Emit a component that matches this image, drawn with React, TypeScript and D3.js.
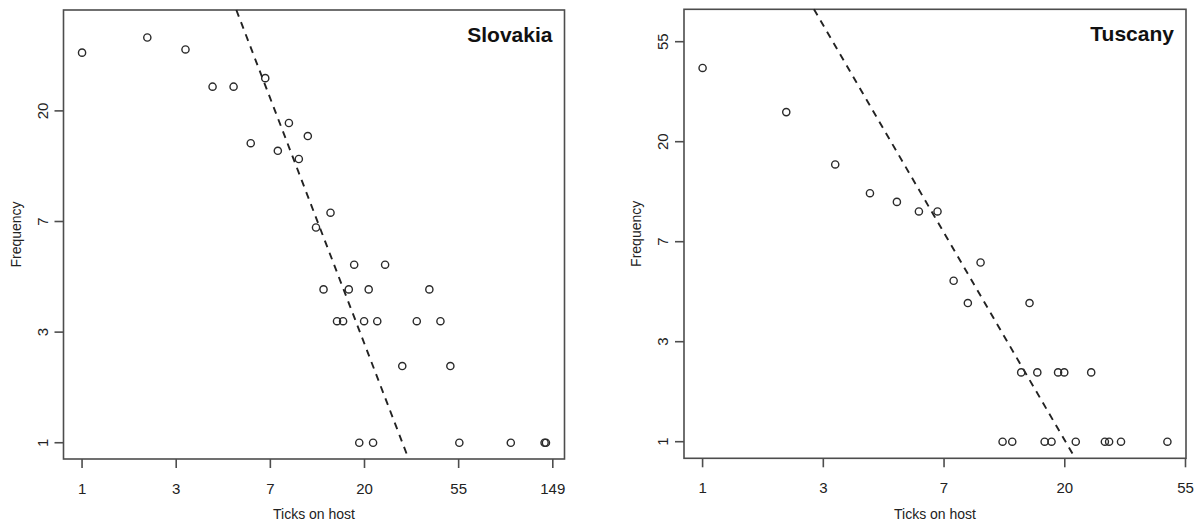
import React from "react";
import * as d3 from "d3";

// ---- Data ----
// Slovakia: ticks on host vs frequency
const slovakiaTicks = [1, 2, 3, 4, 5, 6, 7, 8, 9, 10, 11, 12, 13, 14, 15, 16, 17, 18, 19, 20, 21, 22, 23, 25, 30, 35, 40, 45, 50, 55, 95, 136, 138];
const slovakiaFreq = [34, 39, 35, 25, 25, 15, 27, 14, 18, 13, 16, 7, 4, 8, 3, 3, 4, 5, 1, 3, 4, 1, 3, 5, 2, 3, 4, 3, 2, 1, 1, 1, 1];
// Tuscany
const tuscanyTicks = [1, 2, 3, 4, 5, 6, 7, 8, 9, 10, 12, 13, 14, 15, 16, 17, 18, 19, 20, 22, 25, 28, 29, 32, 47];
const tuscanyFreq = [42, 27, 16, 12, 11, 10, 10, 5, 4, 6, 1, 1, 2, 4, 2, 1, 1, 2, 2, 1, 2, 1, 1, 1, 1];
// Fitted lines in ln-ln space: ln(freq) = intercept + slope * ln(ticks)
const slovakiaFit = [7.547, -2.218];
const tuscanyFit = [6.238, -2.075];
// Axis tick labels (placed at ln = 0, 1, 2, ...)
const slovakiaXTickLabels = ["1", "3", "7", "20", "55", "149"];
const slovakiaYTickLabels = ["1", "3", "7", "20"];
const tuscanyXTickLabels = ["1", "3", "7", "20", "55"];
const tuscanyYTickLabels = ["1", "3", "7", "20", "55"];
// ln-space axis limits
const slovakiaYLim = [-0.147, 3.912];
const tuscanyYLim = [-0.166, 4.324];

const FONT = "'Liberation Sans', Arial, Helvetica, sans-serif";

type PanelProps = {
  title: string;
  xs: number[];
  ys: number[];
  fit: number[];
  xLabels: string[];
  yLabels: string[];
  yLim: number[];
  box: { left: number; right: number; top: number; bottom: number };
};

function Panel({ title, xs, ys, fit, xLabels, yLabels, yLim, box }: PanelProps) {
  const lnMax = Math.log(d3.max(xs) as number);
  const ext = lnMax * 0.04;
  const x = d3.scaleLinear().domain([-ext, lnMax + ext]).range([box.left, box.right]);
  const y = d3.scaleLinear().domain(yLim).range([box.bottom, box.top]);

  // clipped fitted line
  const [a, b] = fit;
  const [xlo, xhi] = x.domain();
  const [ylo, yhi] = yLim;
  const xAtTop = (yhi - a) / b;
  const xAtBottom = (ylo - a) / b;
  const x0 = Math.max(xlo, Math.min(xAtTop, xAtBottom));
  const x1 = Math.min(xhi, Math.max(xAtTop, xAtBottom));
  const lineGen = d3.line<number>().x((v) => x(v)).y((v) => y(a + b * v));

  const stroke = "#4d4d4d";
  const tickLen = 9;
  const midY = (box.top + box.bottom) / 2;
  const midX = (box.left + box.right) / 2;

  return (
    <g>
      <rect x={box.left} y={box.top} width={box.right - box.left} height={box.bottom - box.top}
        fill="none" stroke={stroke} strokeWidth={1.6} />
      {xLabels.map((lab, i) => (
        <g key={"xt" + i}>
          <line x1={x(i)} x2={x(i)} y1={box.bottom} y2={box.bottom + tickLen} stroke={stroke} strokeWidth={1.6} />
          <text x={x(i)} y={box.bottom + 34.5} textAnchor="middle" fontFamily={FONT} fontSize={15} fill="#222">{lab}</text>
        </g>
      ))}
      {yLabels.map((lab, i) => (
        <g key={"yt" + i}>
          <line x1={box.left - tickLen} x2={box.left} y1={y(i)} y2={y(i)} stroke={stroke} strokeWidth={1.6} />
          <text transform={`translate(${box.left - 16},${y(i)}) rotate(-90)`} textAnchor="middle"
            fontFamily={FONT} fontSize={15} fill="#222">{lab}</text>
        </g>
      ))}
      <text x={midX} y={519} textAnchor="middle" fontFamily={FONT} fontSize={14} fill="#222">Ticks on host</text>
      <text transform={`translate(${box.left - 43},${midY}) rotate(-90)`} textAnchor="middle"
        fontFamily={FONT} fontSize={14} fill="#222">Frequency</text>
      <text x={box.right - 12} y={box.top + 31.7} textAnchor="end" fontFamily={FONT} fontWeight="bold"
        fontSize={21} fill="#111">{title}</text>
      <path d={lineGen([x0, x1]) || ""} fill="none" stroke="#222" strokeWidth={1.9} strokeDasharray="7,6" />
      {xs.map((v, i) => (
        <circle key={"p" + i} cx={x(Math.log(v))} cy={y(Math.log(ys[i]))} r={3.6}
          fill="none" stroke="#2a2a2a" strokeWidth={1.4} />
      ))}
    </g>
  );
}

export default function App() {
  return (
    <svg width={1198} height={521} style={{ position: "absolute", left: 0, top: 0, background: "#fff" }}>
      <rect x={0} y={0} width={1198} height={521} fill="#fff" />
      <Panel title="Slovakia" xs={slovakiaTicks} ys={slovakiaFreq} fit={slovakiaFit}
        xLabels={slovakiaXTickLabels} yLabels={slovakiaYTickLabels} yLim={slovakiaYLim}
        box={{ left: 63.5, right: 564.5, top: 10, bottom: 459 }} />
      <Panel title="Tuscany" xs={tuscanyTicks} ys={tuscanyFreq} fit={tuscanyFit}
        xLabels={tuscanyXTickLabels} yLabels={tuscanyYTickLabels} yLim={tuscanyYLim}
        box={{ left: 684, right: 1186, top: 9.3, bottom: 458.3 }} />
    </svg>
  );
}
